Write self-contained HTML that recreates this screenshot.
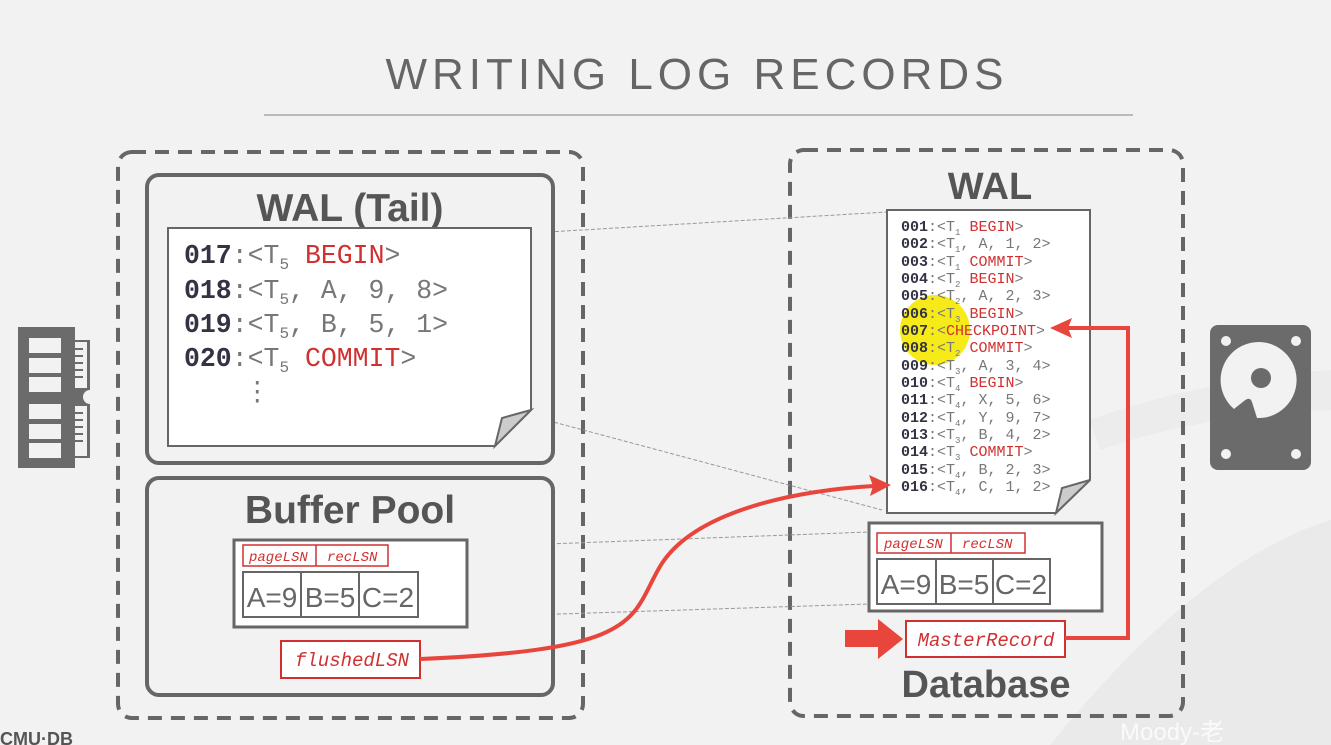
<!DOCTYPE html>
<html><head><meta charset="utf-8"><style>
body{margin:0;background:#f2f2f2;}
svg{display:block}
.m{font-family:"Liberation Mono",monospace}
.s{font-family:"Liberation Sans",sans-serif}
</style></head><body>
<svg width="1331" height="745" viewBox="0 0 1331 745" xmlns="http://www.w3.org/2000/svg">
<rect width="1331" height="745" fill="#f2f2f2"/>
<path d="M1050 745 Q1200 560 1331 520 L1331 745Z" fill="#eaeaea"/>
<path d="M1090 420 Q1200 380 1331 370 L1331 410 Q1200 415 1100 450Z" fill="#ececec"/>
<text x="697" y="89" text-anchor="middle" class="s" font-size="44" letter-spacing="5" fill="#666">WRITING LOG RECORDS</text>
<line x1="264" y1="115" x2="1133" y2="115" stroke="#bbb" stroke-width="2"/>

<rect x="118" y="152" width="465" height="566" rx="14" fill="none" stroke="#666" stroke-width="4" stroke-dasharray="14,9"/>
<rect x="790" y="150" width="393" height="566" rx="14" fill="none" stroke="#666" stroke-width="4" stroke-dasharray="14,9"/>

<g fill="#6b6b6b">
<path d="M18 327 H75 V340 H90 V390 A7 7 0 0 0 90 404 V458 H75 V468 H18 Z"/>
</g>
<g fill="#f2f2f2">
<rect x="29" y="338" width="32" height="15"/><rect x="29" y="358" width="32" height="15"/><rect x="29" y="377" width="32" height="15"/>
<rect x="29" y="404" width="32" height="15"/><rect x="29" y="424" width="32" height="15"/><rect x="29" y="443" width="32" height="15"/>
<rect x="75" y="342" width="12" height="46"/><rect x="75" y="406" width="12" height="50"/>
</g>
<g stroke="#6b6b6b" stroke-width="2">
<line x1="75" y1="349" x2="83" y2="349"/><line x1="75" y1="356" x2="83" y2="356"/><line x1="75" y1="363" x2="83" y2="363"/><line x1="75" y1="370" x2="83" y2="370"/><line x1="75" y1="377" x2="83" y2="377"/>
<line x1="75" y1="413" x2="83" y2="413"/><line x1="75" y1="420" x2="83" y2="420"/><line x1="75" y1="427" x2="83" y2="427"/><line x1="75" y1="434" x2="83" y2="434"/><line x1="75" y1="441" x2="83" y2="441"/>
</g>

<rect x="1210" y="325" width="101" height="145" rx="8" fill="#6b6b6b"/>
<g fill="#f2f2f2">
<circle cx="1226" cy="341" r="5"/><circle cx="1296" cy="341" r="5"/><circle cx="1226" cy="454" r="5"/><circle cx="1296" cy="454" r="5"/>
<path d="M1234 409 A38 38 0 1 1 1257 418 L1252 402 Q1250 396 1244 401 Z"/>
</g>
<circle cx="1261" cy="378" r="10" fill="#6b6b6b"/>

<g stroke="#999" stroke-width="1" stroke-dasharray="4,2" fill="none">
<line x1="531" y1="233" x2="887" y2="212"/>
<line x1="531" y1="416" x2="882" y2="510"/>
<line x1="467" y1="547" x2="869" y2="532"/>
<line x1="467" y1="617" x2="869" y2="604"/>
</g>

<rect x="147" y="175" width="406" height="288" rx="12" fill="#f2f2f2" stroke="#666" stroke-width="4"/>
<text x="350" y="221" text-anchor="middle" class="s" font-weight="bold" font-size="39" fill="#555">WAL (Tail)</text>
<path d="M168 228 H531 V410 L495 446 H168 Z" fill="#fff" stroke="#666" stroke-width="2"/>
<path d="M531 410 L495 446 L502 418 Z" fill="#ccc" stroke="#666" stroke-width="2"/>
<g class="m" font-size="26.5" fill="#777">
<text x="184" y="263"><tspan font-weight="bold" fill="#333344">017</tspan>:&lt;T<tspan font-size="16" dy="6">5</tspan><tspan dy="-6"> </tspan><tspan fill="#d03030">BEGIN</tspan>&gt;</text>
<text x="184" y="298"><tspan font-weight="bold" fill="#333344">018</tspan>:&lt;T<tspan font-size="16" dy="6">5</tspan><tspan dy="-6">, A, 9, 8&gt;</tspan></text>
<text x="184" y="332"><tspan font-weight="bold" fill="#333344">019</tspan>:&lt;T<tspan font-size="16" dy="6">5</tspan><tspan dy="-6">, B, 5, 1&gt;</tspan></text>
<text x="184" y="366"><tspan font-weight="bold" fill="#333344">020</tspan>:&lt;T<tspan font-size="16" dy="6">5</tspan><tspan dy="-6"> </tspan><tspan fill="#d03030">COMMIT</tspan>&gt;</text>
<text x="244" y="400">⋮</text>
</g>

<rect x="147" y="478" width="406" height="217" rx="12" fill="#f2f2f2" stroke="#666" stroke-width="4"/>
<text x="350" y="523" text-anchor="middle" class="s" font-weight="bold" font-size="39" fill="#555">Buffer Pool</text>
<rect x="234" y="540" width="233" height="87" fill="#fff" stroke="#666" stroke-width="3"/>
<rect x="243" y="545" width="145" height="21" fill="#fff" stroke="#d03030" stroke-width="1.5"/>
<line x1="316" y1="545" x2="316" y2="566" stroke="#d03030" stroke-width="1.5"/>
<g class="m" font-style="italic" font-size="14" fill="#d03030"><text x="249" y="561">pageLSN</text><text x="327" y="561">recLSN</text></g>
<rect x="243" y="572" width="175" height="45" fill="#fff" stroke="#666" stroke-width="2"/>
<line x1="301" y1="572" x2="301" y2="617" stroke="#666" stroke-width="2"/><line x1="359" y1="572" x2="359" y2="617" stroke="#666" stroke-width="2"/>
<g class="s" font-size="28" fill="#666"><text x="272" y="607" text-anchor="middle">A=9</text><text x="330" y="607" text-anchor="middle">B=5</text><text x="388" y="607" text-anchor="middle">C=2</text></g>
<rect x="281" y="641" width="139" height="37" fill="#fff" stroke="#d03030" stroke-width="2"/>
<text x="352" y="666" text-anchor="middle" class="m" font-style="italic" font-size="19" fill="#d03030">flushedLSN</text>

<text x="990" y="199" text-anchor="middle" class="s" font-weight="bold" font-size="38" fill="#555">WAL</text>
<path d="M887 210 H1090 V480 L1056 513 H887 Z" fill="#fff" stroke="#666" stroke-width="2"/>
<path d="M1090 480 L1056 513 L1062 488 Z" fill="#ccc" stroke="#666" stroke-width="2"/>
<circle cx="935" cy="330" r="35" fill="#f5e800" opacity="0.9"/>
<g class="m" font-size="15" fill="#777">
<text x="901" y="231"><tspan font-weight="bold" fill="#333344">001</tspan>:&lt;T<tspan font-size="9" dy="4">1</tspan><tspan dy="-4"> </tspan><tspan fill="#d03030">BEGIN</tspan>&gt;</text>
<text x="901" y="248"><tspan font-weight="bold" fill="#333344">002</tspan>:&lt;T<tspan font-size="9" dy="4">1</tspan><tspan dy="-4">, A, 1, 2&gt;</tspan></text>
<text x="901" y="266"><tspan font-weight="bold" fill="#333344">003</tspan>:&lt;T<tspan font-size="9" dy="4">1</tspan><tspan dy="-4"> </tspan><tspan fill="#d03030">COMMIT</tspan>&gt;</text>
<text x="901" y="283"><tspan font-weight="bold" fill="#333344">004</tspan>:&lt;T<tspan font-size="9" dy="4">2</tspan><tspan dy="-4"> </tspan><tspan fill="#d03030">BEGIN</tspan>&gt;</text>
<text x="901" y="300"><tspan font-weight="bold" fill="#333344">005</tspan>:&lt;T<tspan font-size="9" dy="4">2</tspan><tspan dy="-4">, A, 2, 3&gt;</tspan></text>
<text x="901" y="318"><tspan font-weight="bold" fill="#333344">006</tspan>:&lt;T<tspan font-size="9" dy="4">3</tspan><tspan dy="-4"> </tspan><tspan fill="#d03030">BEGIN</tspan>&gt;</text>
<text x="901" y="335"><tspan font-weight="bold" fill="#333344">007</tspan>:&lt;<tspan fill="#d03030">CHECKPOINT</tspan>&gt;</text>
<text x="901" y="352"><tspan font-weight="bold" fill="#333344">008</tspan>:&lt;T<tspan font-size="9" dy="4">2</tspan><tspan dy="-4"> </tspan><tspan fill="#d03030">COMMIT</tspan>&gt;</text>
<text x="901" y="370"><tspan font-weight="bold" fill="#333344">009</tspan>:&lt;T<tspan font-size="9" dy="4">3</tspan><tspan dy="-4">, A, 3, 4&gt;</tspan></text>
<text x="901" y="387"><tspan font-weight="bold" fill="#333344">010</tspan>:&lt;T<tspan font-size="9" dy="4">4</tspan><tspan dy="-4"> </tspan><tspan fill="#d03030">BEGIN</tspan>&gt;</text>
<text x="901" y="404"><tspan font-weight="bold" fill="#333344">011</tspan>:&lt;T<tspan font-size="9" dy="4">4</tspan><tspan dy="-4">, X, 5, 6&gt;</tspan></text>
<text x="901" y="422"><tspan font-weight="bold" fill="#333344">012</tspan>:&lt;T<tspan font-size="9" dy="4">4</tspan><tspan dy="-4">, Y, 9, 7&gt;</tspan></text>
<text x="901" y="439"><tspan font-weight="bold" fill="#333344">013</tspan>:&lt;T<tspan font-size="9" dy="4">3</tspan><tspan dy="-4">, B, 4, 2&gt;</tspan></text>
<text x="901" y="456"><tspan font-weight="bold" fill="#333344">014</tspan>:&lt;T<tspan font-size="9" dy="4">3</tspan><tspan dy="-4"> </tspan><tspan fill="#d03030">COMMIT</tspan>&gt;</text>
<text x="901" y="474"><tspan font-weight="bold" fill="#333344">015</tspan>:&lt;T<tspan font-size="9" dy="4">4</tspan><tspan dy="-4">, B, 2, 3&gt;</tspan></text>
<text x="901" y="491"><tspan font-weight="bold" fill="#333344">016</tspan>:&lt;T<tspan font-size="9" dy="4">4</tspan><tspan dy="-4">, C, 1, 2&gt;</tspan></text>
</g>

<rect x="869" y="523" width="233" height="88" fill="#fff" stroke="#666" stroke-width="3"/>
<rect x="877" y="533" width="148" height="20" fill="#fff" stroke="#d03030" stroke-width="1.5"/>
<line x1="951" y1="533" x2="951" y2="553" stroke="#d03030" stroke-width="1.5"/>
<g class="m" font-style="italic" font-size="14" fill="#d03030"><text x="884" y="548">pageLSN</text><text x="962" y="548">recLSN</text></g>
<rect x="877" y="559" width="173" height="45" fill="#fff" stroke="#666" stroke-width="2"/>
<line x1="936" y1="559" x2="936" y2="604" stroke="#666" stroke-width="2"/><line x1="993" y1="559" x2="993" y2="604" stroke="#666" stroke-width="2"/>
<g class="s" font-size="28" fill="#666"><text x="906" y="594" text-anchor="middle">A=9</text><text x="964" y="594" text-anchor="middle">B=5</text><text x="1021" y="594" text-anchor="middle">C=2</text></g>
<rect x="906" y="621" width="159" height="36" fill="#fff" stroke="#d03030" stroke-width="2"/>
<text x="986" y="646" text-anchor="middle" class="m" font-style="italic" font-size="19" fill="#d03030">MasterRecord</text>
<text x="986" y="697" text-anchor="middle" class="s" font-weight="bold" font-size="38" fill="#555">Database</text>

<path d="M845 630 H878 V619 L903 639 L878 659 V647 H845 Z" fill="#e8453c"/>
<path d="M1065 638 H1128 V328 H1068" fill="none" stroke="#e8453c" stroke-width="4"/>
<path d="M1050 328 L1072 318 L1068 328 L1072 338 Z" fill="#e8453c"/>
<path d="M420 659 C640 650 630 620 658 570 C690 510 800 490 874 486" fill="none" stroke="#e8453c" stroke-width="4"/>
<path d="M891 485 L869 475 L873 486 L870 496 Z" fill="#e8453c"/>

<text x="0" y="745" class="s" font-size="18" font-weight="bold" fill="#555">CMU·DB</text>
<text x="1120" y="740" class="s" font-size="24" fill="#fff" opacity="0.8">Moody-老</text>
</svg>
</body></html>
